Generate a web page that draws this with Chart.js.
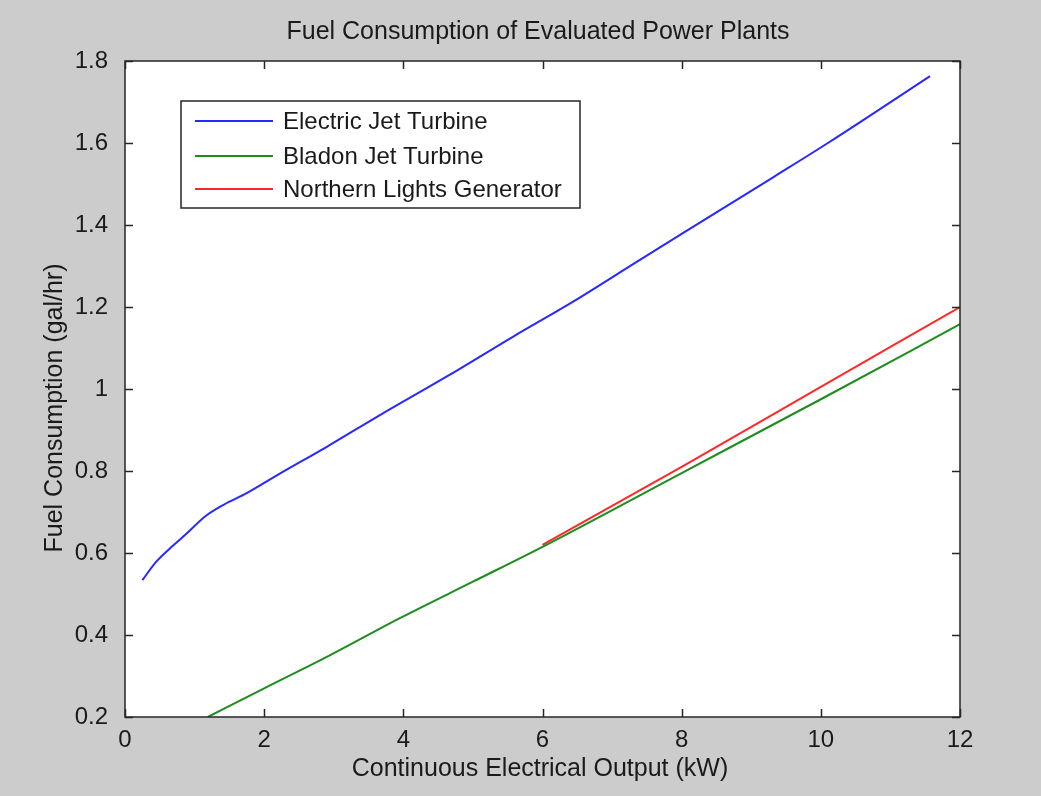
<!DOCTYPE html>
<html>
<head>
<meta charset="utf-8">
<script src="https://cdn.jsdelivr.net/npm/chart.js@4.4.0/dist/chart.umd.min.js"></script>
<style>
html,body{margin:0;padding:0;background:#cccccc;}
#wrap{width:1041px;height:796px;position:relative;}
</style>
</head>
<body>
<div id="wrap"><canvas id="c" width="1041" height="796"></canvas></div>
<script>
const chartTitle = "Fuel Consumption of Evaluated Power Plants";
const xAxisTitle = "Continuous Electrical Output (kW)";
const yAxisTitle = "Fuel Consumption (gal/hr)";
const seriesNames = ["Electric Jet Turbine", "Bladon Jet Turbine", "Northern Lights Generator"];

const electricX = [0.25, 0.45, 0.67, 0.89, 1.15, 1.41, 1.75, 2.23, 2.9, 3.67, 4.62, 5.58, 6.44, 7.40, 8.36, 9.32, 10.13, 11.57];
const electricY = [0.534, 0.579, 0.615, 0.648, 0.689, 0.717, 0.746, 0.794, 0.859, 0.937, 1.03, 1.128, 1.213, 1.315, 1.416, 1.517, 1.603, 1.763];

const bladonX = [1.19, 2.0, 2.95, 3.95, 5.0, 6.0, 8.0, 10.0, 12.0];
const bladonY = [0.2, 0.27, 0.351, 0.441, 0.53, 0.615, 0.795, 0.975, 1.158];

const northernX = [6.0, 8.0, 10.0, 12.0];
const northernY = [0.62, 0.81, 1.005, 1.2];

const xTicks = [0, 2, 4, 6, 8, 10, 12];
const yTicks = [0.2, 0.4, 0.6, 0.8, 1.0, 1.2, 1.4, 1.6, 1.8];

function pts(xs, ys){ return xs.map((x,i)=>({x:x, y:ys[i]})); }

const FONT = "'Liberation Sans', Arial, sans-serif";
const TXT = "#1a1a1a";

const framePlugin = {
  id: 'frame',
  afterDraw(chart){
    const ctx = chart.ctx;
    const a = chart.chartArea;
    const xs = chart.scales.x, ys = chart.scales.y;
    ctx.save();
    ctx.strokeStyle = '#262626';
    ctx.lineWidth = 1.5;
    ctx.strokeRect(a.left, a.top, a.right - a.left, a.bottom - a.top);
    const tl = 8;
    ctx.beginPath();
    xTicks.forEach(v=>{
      const px = Math.round(xs.getPixelForValue(v)) + 0.5;
      ctx.moveTo(px, a.bottom); ctx.lineTo(px, a.bottom - tl);
      ctx.moveTo(px, a.top); ctx.lineTo(px, a.top + tl);
    });
    yTicks.forEach(v=>{
      const py = Math.round(ys.getPixelForValue(v)) + 0.5;
      ctx.moveTo(a.left, py); ctx.lineTo(a.left + tl, py);
      ctx.moveTo(a.right, py); ctx.lineTo(a.right - tl, py);
    });
    ctx.stroke();

    // titles
    ctx.fillStyle = TXT;
    ctx.font = "25px " + FONT;
    ctx.textAlign = 'center';
    ctx.textBaseline = 'middle';
    ctx.fillText(chartTitle, 538, 32);
    ctx.font = "25px " + FONT;
    ctx.fillText(xAxisTitle, 540, 769);
    ctx.save();
    ctx.translate(55, 408);
    ctx.rotate(-Math.PI/2);
    ctx.fillText(yAxisTitle, 0, 0);
    ctx.restore();

    // legend box
    const lx = 181, ly = 101, lw = 399, lh = 107;
    ctx.fillStyle = '#ffffff';
    ctx.fillRect(lx, ly, lw, lh);
    ctx.strokeStyle = '#262626';
    ctx.lineWidth = 1.5;
    ctx.strokeRect(lx, ly, lw, lh);
    const rows = [121, 156, 189];
    chart.data.datasets.forEach((ds, i)=>{
      ctx.strokeStyle = ds.borderColor;
      ctx.lineWidth = 2;
      ctx.beginPath();
      ctx.moveTo(195, rows[i]); ctx.lineTo(273, rows[i]);
      ctx.stroke();
      ctx.fillStyle = TXT;
      ctx.font = "24px " + FONT;
      ctx.textAlign = 'left';
      ctx.textBaseline = 'middle';
      ctx.fillText(ds.label, 283, rows[i] + 1);
    });
    ctx.restore();
  }
};

const bgPlugin = {
  id: 'bg',
  beforeDraw(chart){
    const ctx = chart.ctx;
    ctx.save();
    ctx.fillStyle = '#cccccc';
    ctx.fillRect(0, 0, chart.width, chart.height);
    const a = chart.chartArea;
    ctx.fillStyle = '#ffffff';
    ctx.fillRect(a.left, a.top, a.right - a.left, a.bottom - a.top);
    ctx.restore();
  }
};

new Chart(document.getElementById('c'), {
  type: 'scatter',
  data: {
    datasets: [
      {label: seriesNames[0], data: pts(electricX, electricY), borderColor: 'rgb(40,40,255)', showLine: true, pointRadius: 0, borderWidth: 2, cubicInterpolationMode: 'monotone', fill: false},
      {label: seriesNames[1], data: pts(bladonX, bladonY), borderColor: 'rgb(30,140,30)', showLine: true, pointRadius: 0, borderWidth: 2, cubicInterpolationMode: 'monotone', fill: false},
      {label: seriesNames[2], data: pts(northernX, northernY), borderColor: 'rgb(255,40,40)', showLine: true, pointRadius: 0, borderWidth: 2, cubicInterpolationMode: 'monotone', fill: false}
    ]
  },
  options: {
    responsive: false,
    animation: false,
    events: [],
    layout: {padding: {left: 0, right: 81, top: 61, bottom: 0}},
    plugins: {legend: {display: false}, title: {display: false}, tooltip: {enabled: false}},
    scales: {
      x: {
        type: 'linear', min: 0, max: 12,
        afterFit(s){ s.height = 79; },
        afterBuildTicks(s){ s.ticks = xTicks.map(v=>({value:v})); },
        grid: {display: false}, border: {display: false},
        ticks: {padding: 1, color: TXT, font: {size: 24, family: FONT}, maxRotation: 0, callback: v => String(v)}
      },
      y: {
        type: 'linear', min: 0.2, max: 1.8,
        afterFit(s){ s.width = 125; },
        afterBuildTicks(s){ s.ticks = yTicks.map(v=>({value:v})); },
        grid: {display: false}, border: {display: false},
        ticks: {padding: 9, color: TXT, font: {size: 24, family: FONT}, callback: v => String(Number(v.toFixed(1)))}
      }
    }
  },
  plugins: [bgPlugin, framePlugin]
});
</script>
</body>
</html>
